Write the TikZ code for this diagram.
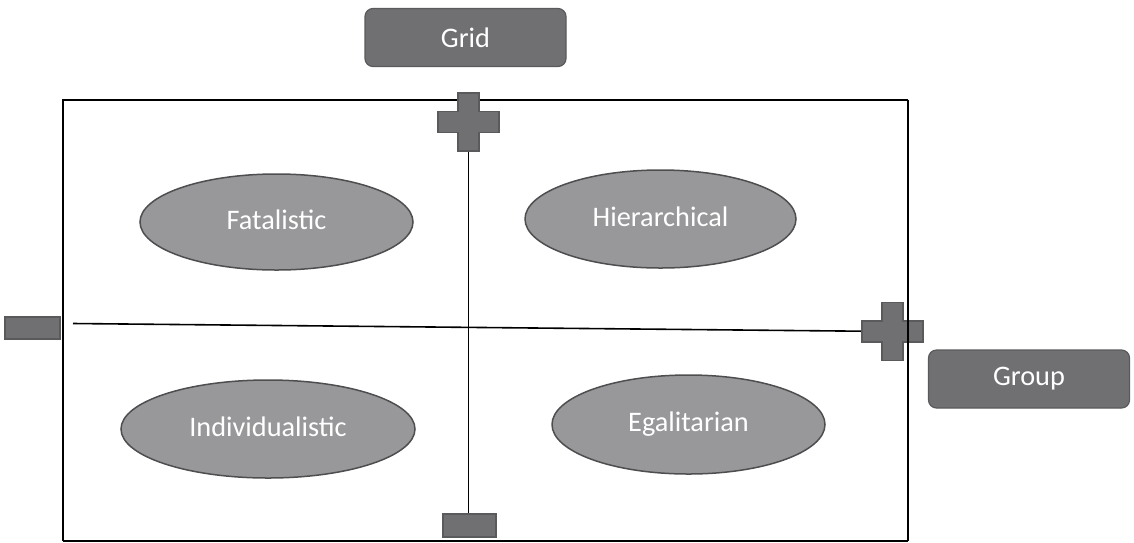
\documentclass[tikz,border=0pt]{standalone}
\usepackage{fontspec}
\setmainfont{Carlito}
\usetikzlibrary{shapes.geometric}
\definecolor{boxfill}{HTML}{707073}
\definecolor{boxline}{HTML}{5A5A5C}
\definecolor{ellfill}{HTML}{98989B}
\definecolor{ellline}{HTML}{4E4E50}
\newcommand{\crossshape}[2]{%
  \filldraw[signbox] ([shift={(-10.5,-29)}]#1) -- ([shift={(10.5,-29)}]#1) -- ([shift={(10.5,-10.5)}]#1) -- ([shift={(30.5,-10.5)}]#1) -- ([shift={(30.5,10.5)}]#1) -- ([shift={(10.5,10.5)}]#1) -- ([shift={(10.5,29)}]#1) -- ([shift={(-10.5,29)}]#1) -- ([shift={(-10.5,10.5)}]#1) -- ([shift={(-30.5,10.5)}]#1) -- ([shift={(-30.5,-10.5)}]#1) -- ([shift={(-10.5,-10.5)}]#1) -- cycle;}
\begin{document}
\begin{tikzpicture}[x=1pt,y=-1pt,
  signbox/.style={fill=boxfill,draw=boxline,line width=1.2pt},
  labelbox/.style={rectangle,rounded corners=8pt,fill=boxfill,draw=boxline,line width=1.2pt,text=white,minimum width=201pt,minimum height=58pt,inner sep=0pt,font=\fontsize{28.3}{31}\selectfont},
  culture/.style={ellipse,fill=ellfill,draw=ellline,line width=1.5pt,text=white,inner sep=0pt,minimum width=272pt,minimum height=96pt,font=\fontsize{28.3}{31}\selectfont},
  axis/.style={draw=black,line width=1.6pt},
  frameline/.style={draw=black,line width=2pt}]
\useasboundingbox (0,0) rectangle (1134,542);
% frame
\draw[frameline] (63,541) -- (63,100) -- (908,100);
\draw[frameline] (63,541) -- (908,541);
% sign markers (invisible anchors)
\node[minimum width=61pt,minimum height=58pt,inner sep=0pt] (pT) at (468.5,122) {};
\node[minimum width=61pt,minimum height=58pt,inner sep=0pt] (pR) at (892.5,331.5) {};
\node[rectangle,signbox,minimum width=55pt,minimum height=22pt,inner sep=0pt] (mL) at (32.5,328) {};
\node[rectangle,signbox,minimum width=53pt,minimum height=23pt,inner sep=0pt] (mB) at (469.5,525.5) {};
\coordinate (hstart) at (73,323.5);
% axes
\draw[axis] (pT.center) -- (mB.north -| pT.center);
\draw[axis] (hstart) -- (pR.center);
% plus signs
\crossshape{pT.center}{}
\crossshape{pR.center}{}
% right edge of frame drawn over the plus
\draw[frameline] (908,100) -- (908,541);
% labels
\node[labelbox] (grid) at (465.5,37.5) {Grid};
\node[labelbox] (group) at (1029,379) {Group};
% cultures
\node[culture,minimum width=273pt] (fat) at (276.5,222) {\raisebox{4pt}{Fatalistic}};
\node[culture,minimum width=271pt,minimum height=98pt] (hier) at (660.5,219) {\raisebox{4pt}{Hierarchical}};
\node[culture,minimum width=294pt,minimum height=98pt] (ind) at (268,429) {\raisebox{4pt}{Individualistic}};
\node[culture,minimum width=273pt,minimum height=99pt] (ega) at (688.5,424.5) {\raisebox{4pt}{Egalitarian}};
\end{tikzpicture}
\end{document}
